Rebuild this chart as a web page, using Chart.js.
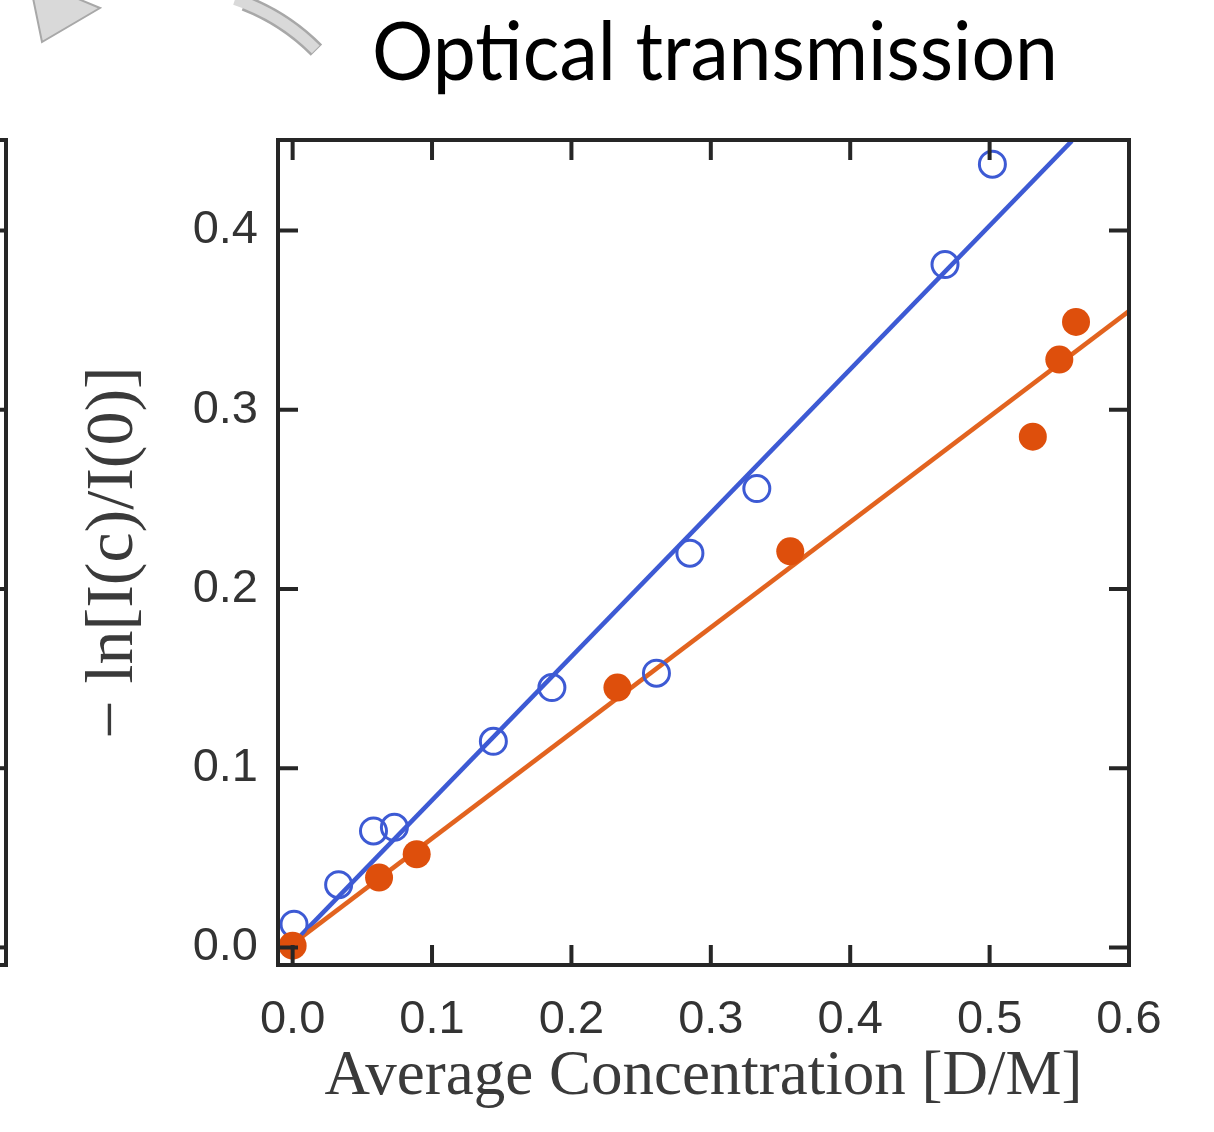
<!DOCTYPE html>
<html>
<head>
<meta charset="utf-8">
<script src="https://cdn.jsdelivr.net/npm/chart.js@4/dist/chart.umd.min.js"></script>
<style>
  html, body { margin: 0; padding: 0; background: #fff; }
  #wrap { width: 1214px; height: 1132px; }
</style>
</head>
<body>
<div id="wrap"><canvas id="chart" width="1214" height="1132"></canvas></div>
<script>
// Open circles (blue)
const blueConc = [0.001, 0.033, 0.058, 0.073, 0.144, 0.186, 0.261, 0.285, 0.333, 0.468, 0.502];
const blueAbs  = [0.013, 0.035, 0.065, 0.067, 0.115, 0.145, 0.153, 0.220, 0.256, 0.381, 0.437];
// Filled circles (orange)
const orangeConc = [0.000, 0.062, 0.089, 0.233, 0.357, 0.531, 0.550, 0.562];
const orangeAbs  = [0.001, 0.039, 0.052, 0.145, 0.221, 0.285, 0.328, 0.349];
// Linear fits (end points)
const blueFitConc = [0.0, 0.559];
const blueFitAbs  = [0.002, 0.450];
const orangeFitConc = [0.0, 0.6];
const orangeFitAbs  = [0.002, 0.355];

const xTickValues = [0.0, 0.1, 0.2, 0.3, 0.4, 0.5, 0.6];
const yTickValues = [0.0, 0.1, 0.2, 0.3, 0.4];

const chartTitle = 'Optical transmission';
const xTitle = 'Average Concentration [D/M]';
const yTitle = '\u2212 ln[I(c)/I(0)]';

const toPoints = (xs, ys) => xs.map((x, i) => ({ x: x, y: ys[i] }));

const BLUE = '#3d5ad4';
const ORANGE = '#de4f0c';
const ORANGE_LINE = '#e2631f';
const AXIS = '#262626';

// frame + inward ticks on all four sides, plus slide decorations
const framePlugin = {
    id: 'frame',
    beforeDraw(chart) {
        const ctx = chart.ctx;
        const area = chart.chartArea;
        const yScale = chart.scales.y;
        ctx.save();
        ctx.fillStyle = '#fff';
        ctx.fillRect(0, 0, chart.width, chart.height);

        // grey arrow head (top left)
        ctx.fillStyle = '#d9d9d9';
        ctx.strokeStyle = '#a8a8a8';
        ctx.lineWidth = 2;
        ctx.beginPath();
        ctx.moveTo(33, -2);
        ctx.lineTo(42, 42);
        ctx.lineTo(100, 8);
        ctx.lineTo(76, -2);
        ctx.closePath();
        ctx.fill();
        ctx.stroke();

        // grey curved arrow body
        ctx.lineCap = 'butt';
        ctx.strokeStyle = '#a8a8a8';
        ctx.lineWidth = 16;
        ctx.beginPath();
        ctx.arc(170, 195, 206, -1.2, -0.78);
        ctx.stroke();
        ctx.strokeStyle = '#d9d9d9';
        ctx.lineWidth = 11;
        ctx.beginPath();
        ctx.arc(170, 195, 206, -1.25, -0.785);
        ctx.stroke();

        // partial frame of the neighbouring panel
        ctx.strokeStyle = AXIS;
        ctx.lineWidth = 4;
        ctx.beginPath();
        ctx.moveTo(0, area.top);
        ctx.lineTo(6, area.top);
        ctx.lineTo(6, area.bottom);
        ctx.lineTo(0, area.bottom);
        ctx.stroke();
        yScale.ticks.forEach(t => {
            const py = yScale.getPixelForValue(t.value);
            ctx.beginPath();
            ctx.moveTo(0, py);
            ctx.lineTo(6, py);
            ctx.stroke();
        });

        // slide title
        ctx.fillStyle = '#000';
        ctx.font = '82px Lato, "Open Sans", sans-serif';
        ctx.textBaseline = 'alphabetic';
        ctx.textAlign = 'left';
        const w = ctx.measureText(chartTitle).width;
        const targetW = 686;
        ctx.translate(372, 80);
        ctx.scale(targetW / w, 1);
        ctx.fillText(chartTitle, 0, 0);
        ctx.restore();
    },
    afterDraw(chart) {
        const ctx = chart.ctx;
        const area = chart.chartArea;
        const xs = chart.scales.x;
        const ys = chart.scales.y;
        const tickLen = 20;
        ctx.save();
        ctx.strokeStyle = AXIS;
        ctx.lineWidth = 4;
        ctx.lineCap = 'butt';
        xs.ticks.forEach(t => {
            const px = xs.getPixelForValue(t.value);
            ctx.beginPath();
            ctx.moveTo(px, area.bottom);
            ctx.lineTo(px, area.bottom - tickLen);
            ctx.moveTo(px, area.top);
            ctx.lineTo(px, area.top + tickLen);
            ctx.stroke();
        });
        ys.ticks.forEach(t => {
            const py = ys.getPixelForValue(t.value);
            ctx.beginPath();
            ctx.moveTo(area.left, py);
            ctx.lineTo(area.left + tickLen, py);
            ctx.moveTo(area.right, py);
            ctx.lineTo(area.right - tickLen, py);
            ctx.stroke();
        });
        ctx.lineJoin = 'miter';
        ctx.strokeRect(area.left, area.top, area.right - area.left, area.bottom - area.top);
        ctx.restore();
    }
};

const ctx = document.getElementById('chart').getContext('2d');
new Chart(ctx, {
    type: 'scatter',
    data: {
        datasets: [
            {
                label: 'fit (open)',
                type: 'line',
                data: toPoints(blueFitConc, blueFitAbs),
                borderColor: BLUE,
                borderWidth: 4.5,
                pointRadius: 0,
                fill: false,
                order: 4
            },
            {
                label: 'fit (filled)',
                type: 'line',
                data: toPoints(orangeFitConc, orangeFitAbs),
                borderColor: ORANGE_LINE,
                borderWidth: 4.5,
                pointRadius: 0,
                fill: false,
                order: 3
            },
            {
                label: 'open',
                data: toPoints(blueConc, blueAbs),
                pointStyle: 'circle',
                pointRadius: 13,
                pointBorderWidth: 3,
                pointBorderColor: BLUE,
                pointBackgroundColor: 'rgba(255,255,255,0)',
                order: 2
            },
            {
                label: 'filled',
                data: toPoints(orangeConc, orangeAbs),
                pointStyle: 'circle',
                pointRadius: 14,
                pointBorderWidth: 0,
                pointBackgroundColor: ORANGE,
                pointBorderColor: ORANGE,
                order: 1
            }
        ]
    },
    options: {
        responsive: false,
        animation: false,
        layout: { padding: { top: 140, right: 85, left: 0, bottom: 0 } },
        plugins: {
            legend: { display: false },
            tooltip: { enabled: false }
        },
        scales: {
            x: {
                type: 'linear',
                min: -0.0105,
                max: 0.6,
                afterBuildTicks: axis => { axis.ticks = xTickValues.map(v => ({ value: v })); },
                afterFit: axis => { axis.height = 167; },
                grid: { display: false, drawTicks: false },
                border: { display: false },
                ticks: {
                    padding: 27,
                    color: '#333',
                    font: { family: '"Liberation Sans", Arial, sans-serif', size: 47 },
                    callback: v => v.toFixed(1),
                    maxRotation: 0,
                    autoSkip: false
                },
                title: {
                    display: true,
                    text: xTitle,
                    color: '#3a3a3a',
                    font: { family: '"Liberation Serif", serif', size: 63 },
                    padding: { top: 0, bottom: 17 }
                }
            },
            y: {
                type: 'linear',
                min: -0.0098,
                max: 0.4505,
                afterBuildTicks: axis => { axis.ticks = yTickValues.map(v => ({ value: v })); },
                afterFit: axis => { axis.width = 278; },
                grid: { display: false, drawTicks: false },
                border: { display: false },
                ticks: {
                    padding: 20,
                    color: '#333',
                    font: { family: '"Liberation Sans", Arial, sans-serif', size: 47 },
                    callback: v => v.toFixed(1)
                },
                title: {
                    display: true,
                    text: yTitle,
                    color: '#3a3a3a',
                    font: { family: '"Liberation Serif", serif', size: 68 },
                    padding: { top: 73, bottom: 0 }
                }
            }
        }
    },
    plugins: [framePlugin]
});
</script>
</body>
</html>
